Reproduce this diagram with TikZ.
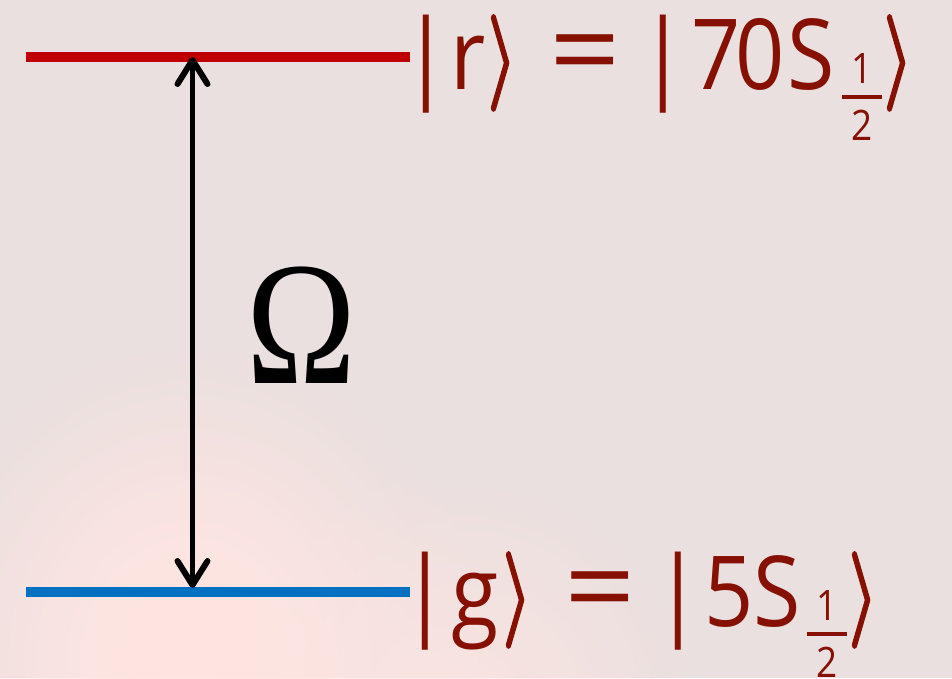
\documentclass[tikz,border=0pt]{standalone}
\usepackage{fontspec}
\usetikzlibrary{arrows.meta,fadings}
\newfontfamily\lblfont[FakeStretch=0.88]{Open Sans}
\newfontfamily\omgfont{Liberation Serif}
\definecolor{bgc}{RGB}{233,224,223}
\definecolor{blob}{RGB}{255,229,226}
\definecolor{lvred}{RGB}{192,0,0}
\definecolor{lvblue}{RGB}{0,112,192}
\definecolor{txtred}{RGB}{134,16,2}
\tikzfading[name=softspot,inner color=transparent!0,outer color=transparent!100]
\newcommand\inkl[1]{\kern-\XeTeXglyphbounds1 \XeTeXcharglyph`#1\relax #1}
\newcommand\seg[2]{\makebox[#1][l]{#2}}
\newcommand\kbar{\inkl{|}}
\newcommand\heavy[1]{\special{pdf:literal direct 2 Tr 0.45 w}#1\special{pdf:literal direct 0 Tr}}
\newcommand\kket{\raisebox{-22pt}{\resizebox*{30pt}{96pt}{\raisebox{\depth}{\heavy{\boldmath$\rangle$}}}}}
\newcommand\keq{\scalebox{1.45}[1.15]{\inkl{=}}}
\newcommand\khalf{{\fontsize{42}{42}\selectfont\makebox[40pt]{\raisebox{6pt}{1}}\kern-40pt\raisebox{-10pt}{\rule{40pt}{4pt}}\kern-40pt\makebox[40pt]{\raisebox{-51pt}{2}}}}
\begin{document}
\begin{tikzpicture}[x=1pt,y=-1pt,
  level/.style={line width=10pt},
  lbl/.style={anchor=base west,inner sep=0pt,text=txtred,font=\lblfont\fontsize{98}{98}\selectfont},
  omg/.style={inner sep=0pt,font=\omgfont\fontsize{148}{148}\selectfont},
  rabi/.style={line width=5pt,{Straight Barb[length=24pt,width=30pt,line width=6pt,round]}-{Straight Barb[length=24pt,width=30pt,line width=6pt,round]}}]
\fill[bgc] (0,0) rectangle (952,678);
\useasboundingbox (0,0) rectangle (952,678);
\fill[blob,path fading=softspot] (190,660) ellipse (300 and 340);
\fill[blob,path fading=softspot] (190,660) ellipse (230 and 260);
\fill[blob,path fading=softspot,opacity=0.8] (460,710) circle (250);
% levels
\coordinate (r1) at (26,57);
\coordinate (r2) at (410,57);
\coordinate (g1) at (26,592);
\coordinate (g2) at (410,592);
\coordinate (rt) at (192.5,57);
\coordinate (gt) at (192.5,588);
\draw[level,lvred] (r1) -- (r2);
\draw[level,lvblue] (g1) -- (g2);
\draw[rabi] (gt) -- (rt);
\node[omg] (om) at (301,325) {\scalebox{1}[1.19]{Ω}};
\node[lbl] (rlab) at (423,89) {\seg{35pt}{\kbar}\seg{29pt}{\inkl{r}}\seg{70pt}{\kket}\seg{103pt}{\keq}\seg{35pt}{\kbar}\seg{45pt}{\inkl{7}}\seg{52pt}{\inkl{0}}\seg{50pt}{\inkl{S}}\seg{41pt}{\khalf}\kket};
\node[lbl] (glab) at (422,626) {\seg{31pt}{\kbar}\seg{49pt}{\inkl{g}}\seg{70pt}{\kket}\seg{103pt}{\keq}\seg{35pt}{\kbar}\seg{48pt}{\inkl{5}}\seg{49pt}{\inkl{S}}\seg{41pt}{\khalf}\kket};
\end{tikzpicture}
\end{document}
